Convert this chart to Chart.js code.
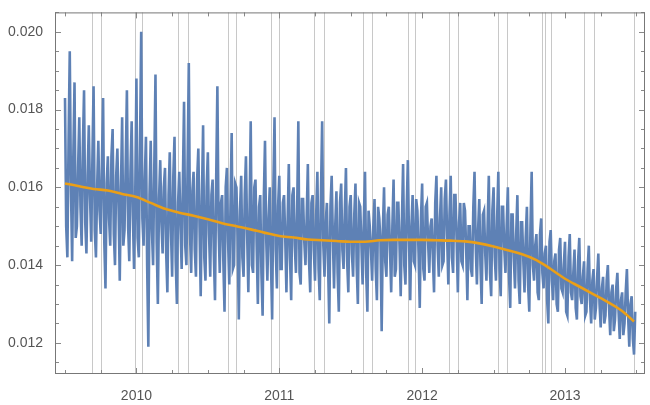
<!DOCTYPE html>
<html><head><script src="https://cdn.jsdelivr.net/npm/chart.js@4"></script>
<style>body{margin:0;background:#fff}#w{width:650px;height:405px}</style></head>
<body><div id="w"><canvas id="c"></canvas></div>
<script>
const startYear = 2009.5, perYear = 60;
const values = [
0.0183,0.0142,0.0195,0.0141,0.0187,0.0150,0.0178,0.0145,0.0185,0.0143,
0.0176,0.0146,0.0186,0.0142,0.0172,0.0148,0.0183,0.0134,0.0168,0.0145,
0.0175,0.0140,0.0170,0.0136,0.0178,0.0149,0.0185,0.0141,0.0177,0.0139,
0.0188,0.0142,0.0200,0.0145,0.0173,0.0119,0.0172,0.0140,0.0189,0.0130,
0.0167,0.0143,0.0165,0.0133,0.0169,0.0137,0.0173,0.0130,0.0164,0.0139,
0.0182,0.0140,0.0192,0.0138,0.0164,0.0137,0.0170,0.0132,0.0176,0.0136,
0.0169,0.0137,0.0162,0.0131,0.0186,0.0138,0.0158,0.0128,0.0165,0.0135,
0.0174,0.0140,0.0160,0.0126,0.0163,0.0137,0.0168,0.0133,0.0177,0.0138,
0.0162,0.0130,0.0158,0.0127,0.0172,0.0136,0.0160,0.0126,0.0178,0.0134,
0.0163,0.0139,0.0158,0.0133,0.0166,0.0131,0.0160,0.0138,0.0177,0.0135,
0.0157,0.0140,0.0166,0.0133,0.0158,0.0136,0.0164,0.0131,0.0177,0.0137,
0.0156,0.0125,0.0163,0.0134,0.0159,0.0128,0.0161,0.0139,0.0165,0.0133,
0.0158,0.0137,0.0161,0.0130,0.0155,0.0135,0.0164,0.0128,0.0150,0.0136,
0.0157,0.0131,0.0152,0.0123,0.0160,0.0137,0.0155,0.0133,0.0162,0.0139,
0.0156,0.0132,0.0166,0.0135,0.0167,0.0131,0.0158,0.0140,0.0154,0.0129,
0.0161,0.0136,0.0156,0.0138,0.0152,0.0133,0.0163,0.0137,0.0160,0.0141,
0.0162,0.0135,0.0163,0.0138,0.0158,0.0133,0.0156,0.0140,0.0154,0.0131,
0.0150,0.0137,0.0164,0.0135,0.0157,0.0130,0.0154,0.0136,0.0163,0.0132,
0.0160,0.0136,0.0164,0.0132,0.0155,0.0138,0.0160,0.0129,0.0153,0.0134,
0.0158,0.0130,0.0151,0.0133,0.0155,0.0128,0.0164,0.0136,0.0148,0.0131,
0.0152,0.0134,0.0145,0.0125,0.0149,0.0131,0.0143,0.0128,0.0147,0.0133,
0.0146,0.0127,0.0148,0.0131,0.0144,0.0126,0.0147,0.0130,0.0141,0.0128,
0.0145,0.0125,0.0139,0.0129,0.0143,0.0124,0.0137,0.0127,0.0140,0.0122,
0.0135,0.0126,0.0138,0.0121,0.0133,0.0125,0.0139,0.0119,0.0132,0.0117];
const valuesMid = [
0.0150,0.0172,0.0160,0.0168,0.0147,0.0165,0.0155,0.0170,0.0151,0.0163,
0.0158,0.0167,0.0149,0.0160,0.0154,0.0166,0.0146,0.0161,0.0152,0.0168,
0.0148,0.0163,0.0155,0.0160,0.0145,0.0166,0.0150,0.0164,0.0153,0.0158,
0.0147,0.0170,0.0152,0.0162,0.0140,0.0158,0.0149,0.0165,0.0146,0.0157,
0.0151,0.0160,0.0143,0.0158,0.0149,0.0163,0.0141,0.0156,0.0150,0.0161,
0.0145,0.0166,0.0148,0.0159,0.0144,0.0162,0.0150,0.0157,0.0142,0.0160,
0.0148,0.0158,0.0143,0.0162,0.0150,0.0156,0.0141,0.0160,0.0146,0.0155,
0.0139,0.0161,0.0147,0.0154,0.0142,0.0158,0.0148,0.0153,0.0140,0.0160,
0.0145,0.0155,0.0138,0.0157,0.0147,0.0152,0.0141,0.0159,0.0144,0.0155,
0.0139,0.0156,0.0147,0.0151,0.0142,0.0158,0.0145,0.0154,0.0138,0.0157,
0.0146,0.0152,0.0141,0.0156,0.0144,0.0153,0.0139,0.0158,0.0145,0.0151,
0.0140,0.0155,0.0147,0.0150,0.0138,0.0156,0.0144,0.0153,0.0141,0.0155,
0.0143,0.0153,0.0140,0.0156,0.0145,0.0151,0.0138,0.0154,0.0144,0.0150,
0.0139,0.0155,0.0146,0.0149,0.0141,0.0153,0.0144,0.0150,0.0137,0.0156,
0.0145,0.0151,0.0140,0.0154,0.0146,0.0150,0.0141,0.0157,0.0143,0.0152,
0.0139,0.0155,0.0146,0.0150,0.0142,0.0156,0.0145,0.0152,0.0140,0.0157,
0.0147,0.0153,0.0142,0.0158,0.0146,0.0151,0.0141,0.0156,0.0144,0.0150,
0.0139,0.0155,0.0145,0.0149,0.0140,0.0153,0.0143,0.0150,0.0138,0.0154,
0.0142,0.0152,0.0139,0.0155,0.0144,0.0150,0.0137,0.0153,0.0142,0.0148,
0.0136,0.0151,0.0141,0.0147,0.0135,0.0150,0.0140,0.0145,0.0133,0.0148,
0.0138,0.0143,0.0131,0.0146,0.0136,0.0141,0.0130,0.0144,0.0134,0.0140,
0.0128,0.0142,0.0133,0.0138,0.0129,0.0141,0.0132,0.0137,0.0127,0.0139,
0.0131,0.0136,0.0126,0.0137,0.0130,0.0134,0.0125,0.0136,0.0129,0.0133,
0.0123,0.0134,0.0128,0.0131,0.0122,0.0133,0.0127,0.0130,0.0121,0.0128];
const trendX = [2009.5,2009.6,2009.7,2009.8,2009.9,2010.0,2010.1,2010.2,2010.3,2010.4,2010.5,2010.6,2010.7,2010.8,2010.9,2011.0,2011.1,2011.2,2011.3,2011.4,2011.5,2011.6,2011.7,2011.8,2011.9,2012.0,2012.1,2012.2,2012.3,2012.4,2012.5,2012.6,2012.7,2012.8,2012.9,2013.0,2013.1,2013.2,2013.3,2013.4,2013.483];
const trendY = [0.01610,0.01603,0.01596,0.01592,0.01583,0.01575,0.01560,0.01545,0.01535,0.01527,0.01518,0.01508,0.01500,0.01492,0.01483,0.01475,0.01471,0.01466,0.01464,0.01462,0.01460,0.01460,0.01464,0.01465,0.01465,0.01465,0.01464,0.01463,0.01461,0.01456,0.01448,0.01438,0.01428,0.01413,0.01390,0.01365,0.01345,0.01325,0.01305,0.01282,0.01255];
const eventLines = [2009.692,2009.755,2009.993,2010.042,2010.294,2010.364,2010.643,2010.699,2010.944,2011.0,2011.245,2011.315,2011.587,2011.650,2011.902,2011.951,2012.189,2012.252,2012.531,2012.594,2012.839,2012.860,2012.902,2013.133,2013.203,2013.483];
const yearTicks = [2010,2011,2012,2013];

const seriesPts = [];
values.forEach((v,i)=>{
  seriesPts.push({x:startYear+i/perYear,y:v});
  if(i<valuesMid.length) seriesPts.push({x:startYear+(i+0.5)/perYear,y:valuesMid[i]});
});
const trendPts = trendX.map((x,i)=>({x:x,y:trendY[i]}));

const deco = {
  id:'deco',
  beforeDatasetsDraw(ch){
    const {ctx,chartArea:a,scales:{x}}=ch;
    ctx.save();ctx.strokeStyle='#c8c8c8';ctx.lineWidth=1;
    eventLines.forEach(v=>{const px=Math.round(x.getPixelForValue(v))+0.5;ctx.beginPath();ctx.moveTo(px,a.top);ctx.lineTo(px,a.bottom);ctx.stroke();});
    ctx.restore();
  },
  afterDatasetsDraw(ch){
    const {ctx,chartArea:a,scales:{x,y}}=ch;
    ctx.save();ctx.strokeStyle='#888';ctx.lineWidth=1;
    for(let q=2009.5;q<=2013.51;q+=0.25){const px=Math.round(x.getPixelForValue(q))+0.5;const L=Number.isInteger(q)?6:4;
      ctx.beginPath();ctx.moveTo(px,a.bottom);ctx.lineTo(px,a.bottom-L);ctx.moveTo(px,a.top);ctx.lineTo(px,a.top+L);ctx.stroke();}
    for(let k=23;k<=41;k++){const v=k*0.0005;const py=Math.round(y.getPixelForValue(v))+0.5;const L=(k%4===0)?6:4;
      ctx.beginPath();ctx.moveTo(a.left,py);ctx.lineTo(a.left+L,py);ctx.moveTo(a.right,py);ctx.lineTo(a.right-L,py);ctx.stroke();}
    ctx.strokeStyle='#777';ctx.strokeRect(a.left+0.5,a.top+0.5,a.right-a.left-1,a.bottom-a.top-1);
    ctx.restore();
  }
};

new Chart(document.getElementById('c'),{
  type:'line',
  data:{datasets:[
    {data:seriesPts,borderColor:'#5e81b5',borderWidth:2.6,pointRadius:0,tension:0,order:2},
    {data:trendPts,borderColor:'#eb9f16',borderWidth:2.6,pointRadius:0,cubicInterpolationMode:'monotone',order:1}
  ]},
  options:{responsive:true,maintainAspectRatio:false,animation:false,
    layout:{padding:{top:8,right:5,left:0,bottom:0}},
    plugins:{legend:{display:false},tooltip:{enabled:false}},
    scales:{
      x:{type:'linear',min:2009.43,max:2013.56,grid:{display:false},border:{display:false},
        afterBuildTicks(s){s.ticks=yearTicks.map(v=>({value:v}));},
        ticks:{color:'#555',font:{family:'Liberation Sans',size:14},maxRotation:0,padding:6,callback:v=>String(v)},
        afterFit(s){s.height=31;}},
      y:{min:0.0112,max:0.0205,grid:{display:false},border:{display:false},
        afterBuildTicks(s){s.ticks=[0.012,0.014,0.016,0.018,0.020].map(v=>({value:v}));},
        ticks:{color:'#555',font:{family:'Liberation Sans',size:14},padding:4,callback:v=>v.toFixed(3)},
        afterFit(s){s.width=55;}}
    }}
  ,plugins:[deco]});
</script></body></html>
